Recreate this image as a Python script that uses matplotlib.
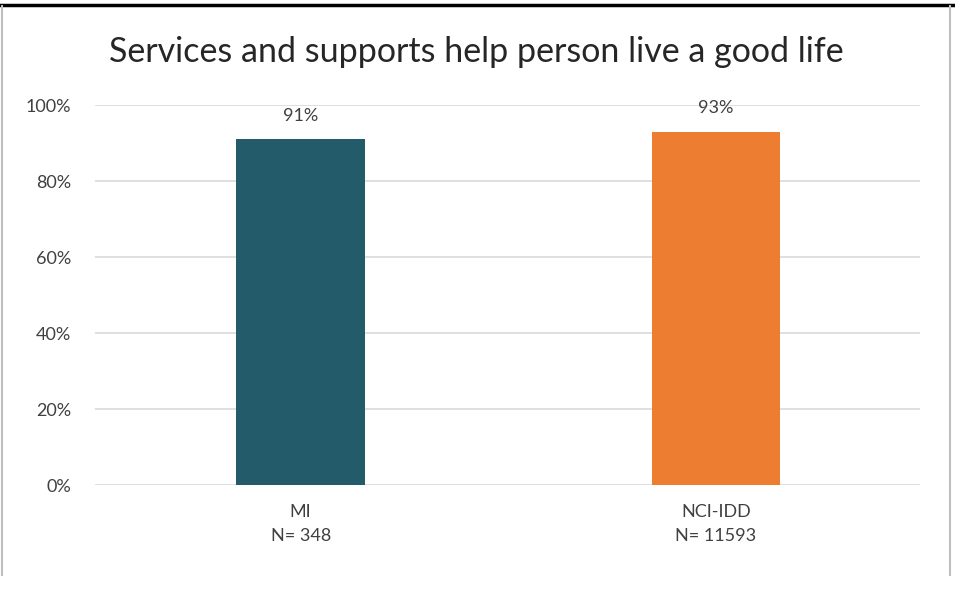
import matplotlib.pyplot as plt
from matplotlib.lines import Line2D

categories = ["MI\nN= 348", "NCI-IDD\nN= 11593"]
values = [91, 93]
colors = ["#235B6A", "#ED7D31"]

plt.rcParams['font.family'] = ['Lato', 'DejaVu Sans']

fig = plt.figure(figsize=(9.55, 6.04), dpi=100)
W, H = 955, 604
ax = fig.add_axes([95 / W, 1 - 485 / H, 825 / W, 380 / H])

x = list(range(len(categories)))
bars = ax.bar(x, values, width=0.31, color=colors, zorder=3)
for b, v in zip(bars, values):
    ax.text(b.get_x() + b.get_width() / 2, v + 4, f"{v}%", ha='center', va='bottom',
            fontsize=13, color='#404040')

ax.set_xlim(-0.495, 1.491)
ax.set_ylim(0, 100)
ax.set_yticks(range(0, 101, 20))
ax.set_yticklabels([f"{t}%" for t in range(0, 101, 20)])
ax.set_xticks(x)
ax.set_xticklabels(categories, linespacing=1.55)
ax.tick_params(axis='both', length=0, labelsize=13, colors='#404040')
ax.tick_params(axis='x', pad=14)
ax.tick_params(axis='y', pad=17)
ax.grid(axis='y', color='#D9D9D9', linewidth=1.2, zorder=0)
for s in ax.spines.values():
    s.set_visible(False)

fig.text(476 / W, 1 - 52 / H, "Services and supports help person live a good life",
         ha='center', va='center', fontsize=24.5, color='#262626')

# outer frame
fig.add_artist(Line2D([0, 1], [1 - 5 / H, 1 - 5 / H], color='black', linewidth=2.5))
fig.add_artist(Line2D([2 / W, 2 / W], [1 - 6 / H, 1 - 575 / H], color='#BFBFBF', linewidth=1.5))
fig.add_artist(Line2D([950 / W, 950 / W], [1 - 6 / H, 1 - 575 / H], color='#BFBFBF', linewidth=1.5))

fig.savefig("out.png", dpi=100)
